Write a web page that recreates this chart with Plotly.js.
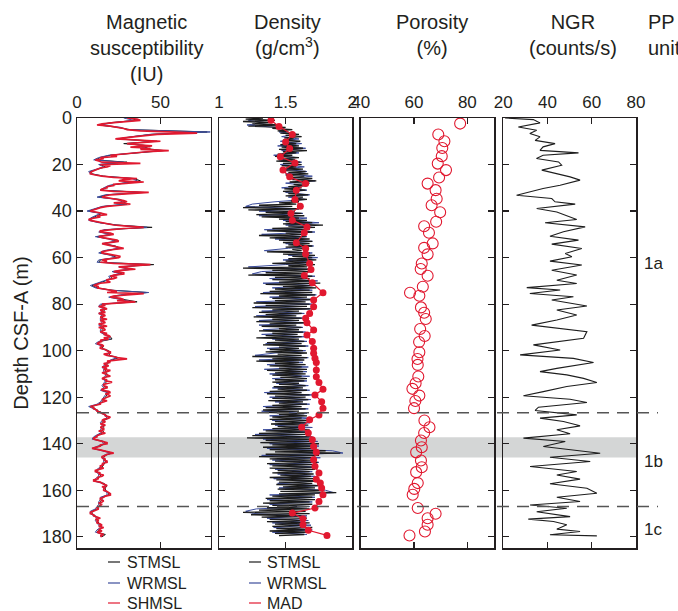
<!DOCTYPE html>
<html>
<head>
<meta charset="utf-8">
<script src="https://cdn.plot.ly/plotly-3.0.1.min.js"></script>
<style>html,body{margin:0;padding:0;background:#fff;}</style>
</head>
<body>
<div id="chart" style="width:678px;height:611px;"></div>
<script>
// ---------------- DATA ----------------
// Magnetic susceptibility (IU), SHMSL sampled every 0.5 m from 0 m
const magSHMSL = [30,36,38,28,22,15,12,20,25,28,30,38,55,72,48,40,35,28,23,38,50,40,30,36,45,32,44,38,55,42,35,28,20,24,14,16,11,13,15,38,
14,20,18,14,12,10,9,8,8,11,15,22,36,28,25,40,30,22,22,18,18,15,14,22,43,30,20,17,15,20,25,28,30,22,32,24,18,14,12,10,
8,12,15,18,12,14,10,7,8,12,15,18,22,30,40,28,18,14,14,20,22,17,13,16,20,24,25,19,15,18,22,26,28,22,18,15,15,19,22,26,
25,20,15,18,14,22,44,35,25,30,35,26,22,28,28,22,20,24,22,18,18,20,14,12,10,13,12,16,20,24,18,40,30,22,20,26,28,24,35,22,
15,17,13,16,18,14,15,17,13,16,17,14,15,18,14,16,17,13,15,18,13,16,17,15,14,18,16,19,20,16,19,14,15,13,12,15,16,14,14,17,
18,20,20,16,18,22,24,30,22,18,20,16,17,19,15,18,16,20,18,15,17,19,20,16,15,18,17,21,19,16,16,18,18,15,15,19,20,17,19,20,
18,16,15,18,16,14,14,11,8,10,10,12,12,14,15,17,17,20,19,16,15,17,16,14,17,15,14,16,16,13,15,17,14,12,12,10,10,13,15,18,
18,14,14,12,9,13,16,20,22,18,17,15,15,17,16,18,18,15,16,14,14,16,13,11,11,14,13,16,15,12,13,10,10,14,15,17,18,15,17,16,
16,18,19,20,20,17,16,14,14,16,15,13,15,14,13,12,13,11,10,8,8,10,10,12,14,11,13,12,12,14,15,13,16,14,13,15,12,14,16,14,15];
// STMSL and WRMSL sampled every 1 m from 0 m
const magSTMSL = [32,36,20,13,24,32,78,45,34,25,48,28,44,40,52,33,20,14,11,30,14,17,12,8,9,16,34,38,28,20,17,15,40,18,13,26,28,30,16,11,
7,15,12,9,8,14,24,45,17,14,21,12,20,24,16,23,26,17,14,21,24,14,13,46,26,33,22,27,20,21,17,13,9,12,21,42,28,20,27,36,
15,14,17,16,14,16,15,15,16,14,16,15,15,17,20,21,14,12,16,15,19,20,19,25,21,19,18,16,17,17,18,18,16,18,17,16,17,15,19,18,
17,16,15,13,9,11,13,16,18,19,16,15,16,16,15,16,13,11,10,16,17,14,10,16,21,17,16,17,17,16,15,13,12,14,14,12,11,16,18,17,
17,19,19,15,15,14,14,13,12,9,9,11,13,12,13,14,15,13,12,17,15];
const magWRMSL = [28,34,22,14,26,30,80,44,33,24,46,30,43,38,50,34,19,13,10,28,13,16,11,7,8,15,33,36,27,19,16,14,38,17,12,24,27,29,15,10,
6,14,11,8,7,13,23,42,16,13,20,11,19,23,15,22,25,16,13,20,23,13,12,42,25,31,21,26,19,20,16,12,8,11,20,43,26,19,26,33,
14,13,16,15,13,15,14,14,15,13,15,14,14,16,19,20,13,11,15,14,18,19,18,24,20,18,17,15,16,16,17,17,15,17,16,15,16,14,18,17,
16,15,14,12,7,10,12,15,17,18,15,14,15,15,14,15,12,10,9,15,16,13,9,15,20,16,15,16,16,15,14,12,11,13,13,11,10,15,17,16,
16,18,18,14,14,13,13,12,11,8,8,10,12,11,12,13,14,12,11,16,14];

// Density (g/cm3): STMSL every 0.5 m, WRMSL every 1 m, from 0 m
const denSTMSL = [1.33,1.20,1.42,1.18,1.40,1.25,1.45,1.22,1.50,1.40,1.55,1.44,1.52,1.46,1.60,1.50,1.62,1.49,1.56,1.48,
1.61,1.50,1.58,1.46,1.60,1.47,1.63,1.45,1.66,1.48,1.58,1.44,1.55,1.42,1.60,1.45,1.57,1.43,1.61,1.48,
1.62,1.47,1.58,1.50,1.63,1.46,1.65,1.52,1.67,1.50,1.64,1.54,1.70,1.55,1.73,1.53,1.68,1.56,1.66,1.52,
1.62,1.49,1.65,1.48,1.60,1.52,1.67,1.50,1.63,1.55,1.66,1.54,1.60,1.45,1.58,1.30,1.55,1.18,1.60,1.22,
1.57,1.35,1.62,1.28,1.64,1.32,1.60,1.45,1.66,1.50,1.70,1.48,1.78,1.52,1.72,1.40,1.68,1.36,1.70,1.50,
1.62,1.30,1.65,1.38,1.68,1.45,1.70,1.48,1.68,1.52,1.70,1.50,1.66,1.55,1.62,1.36,1.68,1.48,1.72,1.55,
1.70,1.52,1.73,1.50,1.69,1.40,1.72,1.52,1.66,1.18,1.68,1.40,1.70,1.35,1.65,1.22,1.70,1.42,1.68,1.40,
1.72,1.45,1.76,1.35,1.70,1.48,1.73,1.42,1.68,1.38,1.70,1.31,1.72,1.45,1.66,1.40,1.70,1.42,1.65,1.26,
1.68,1.35,1.66,1.25,1.70,1.40,1.60,1.30,1.62,1.35,1.58,1.26,1.62,1.40,1.60,1.28,1.64,1.38,1.58,1.32,
1.62,1.45,1.60,1.30,1.63,1.40,1.59,1.35,1.62,1.28,1.60,1.42,1.64,1.36,1.62,1.33,1.65,1.45,1.60,1.38,
1.63,1.35,1.66,1.44,1.62,1.25,1.66,1.40,1.64,1.28,1.60,1.42,1.65,1.38,1.62,1.45,1.66,1.36,1.63,1.42,
1.65,1.40,1.62,1.46,1.66,1.42,1.64,1.40,1.60,1.45,1.65,1.41,1.63,1.44,1.66,1.38,1.62,1.36,1.68,1.42,
1.65,1.40,1.67,1.37,1.63,1.45,1.66,1.40,1.62,1.35,1.65,1.33,1.60,1.34,1.64,1.45,1.66,1.40,1.62,1.38,
1.68,1.42,1.65,1.39,1.67,1.44,1.64,1.40,1.68,1.35,1.66,1.30,1.65,1.25,1.68,1.21,1.72,1.35,1.70,1.31,
1.75,1.40,1.70,1.33,1.73,1.38,1.80,1.42,1.91,1.35,1.75,1.30,1.72,1.38,1.70,1.42,1.74,1.36,1.71,1.40,
1.70,1.38,1.72,1.44,1.68,1.40,1.71,1.46,1.69,1.38,1.72,1.43,1.74,1.45,1.70,1.43,1.75,1.48,1.72,1.44,
1.78,1.46,1.88,1.45,1.72,1.40,1.70,1.35,1.72,1.38,1.68,1.33,1.70,1.40,1.66,1.36,1.68,1.30,1.65,1.18,
1.68,1.24,1.62,1.32,1.66,1.38,1.64,1.36,1.68,1.42,1.65,1.40,1.70,1.43,1.66,1.38,1.68,1.42,1.64,1.45];
const denWRMSL = [1.30,1.22,1.35,1.21,1.42,1.50,1.45,1.58,1.47,1.60,1.46,1.62,1.44,1.65,1.47,1.60,1.41,1.58,1.45,1.62,
1.46,1.64,1.48,1.66,1.50,1.70,1.53,1.72,1.50,1.65,1.47,1.66,1.50,1.68,1.52,1.65,1.42,1.25,1.20,1.60,
1.30,1.63,1.30,1.66,1.48,1.75,1.50,1.70,1.34,1.72,1.32,1.66,1.42,1.70,1.50,1.71,1.52,1.34,1.70,1.52,
1.74,1.48,1.70,1.50,1.22,1.70,1.32,1.25,1.72,1.38,1.74,1.33,1.72,1.40,1.70,1.33,1.73,1.38,1.72,1.28,
1.70,1.27,1.68,1.32,1.64,1.28,1.63,1.30,1.66,1.30,1.63,1.33,1.65,1.32,1.64,1.40,1.66,1.35,1.67,1.36,
1.65,1.42,1.27,1.67,1.30,1.63,1.36,1.67,1.34,1.66,1.38,1.68,1.40,1.66,1.43,1.67,1.40,1.68,1.34,1.70,
1.38,1.69,1.42,1.68,1.33,1.67,1.32,1.66,1.38,1.70,1.40,1.68,1.42,1.70,1.33,1.68,1.27,1.70,1.33,1.74,
1.38,1.75,1.36,1.85,1.93,1.32,1.76,1.40,1.75,1.38,1.73,1.42,1.70,1.44,1.72,1.41,1.75,1.44,1.76,1.45,
1.80,1.86,1.38,1.72,1.36,1.70,1.38,1.68,1.28,1.20,1.26,1.66,1.36,1.67,1.40,1.69,1.41,1.70,1.40,1.66];
// MAD discrete samples
const madDepth = [1.0,3.6,7.1,10.3,13.1,16.7,19.3,22.4,25.3,28.2,31.0,35.0,37.9,41.0,43.9,46.8,49.3,53.6,56.1,58.5,
62.5,65.1,67.7,70.8,75.1,78.2,81.1,84.0,86.1,88.0,91.1,93.3,96.1,99.0,101.1,103.3,105.1,108.3,111.2,113.7,
116.6,119.0,121.9,124.7,127.6,129.7,132.9,135.4,138.3,141.2,143.7,146.9,149.7,152.6,155.2,156.9,159.0,161.9,164.8,167.6,
169.8,172.2,174.8,177.2,179.4];
const madDensity = [1.39,1.45,1.55,1.50,1.53,1.46,1.57,1.48,1.53,1.65,1.58,1.57,1.61,1.54,1.55,1.66,1.64,1.58,1.65,1.65,
1.68,1.69,1.64,1.70,1.78,1.71,1.71,1.68,1.65,1.66,1.71,1.66,1.70,1.71,1.71,1.72,1.73,1.73,1.73,1.75,
1.78,1.72,1.77,1.78,1.75,1.68,1.62,1.67,1.70,1.71,1.73,1.71,1.72,1.75,1.73,1.76,1.77,1.78,1.75,1.72,
1.55,1.63,1.63,1.67,1.81];

// Porosity (%), MAD samples
const porDepth = [2.4,7.1,10.0,12.9,16.4,19.6,22.4,25.6,28.2,31.0,34.7,37.5,40.5,44.6,46.5,49.3,53.9,55.8,58.6,62.5,
64.9,67.8,72.5,75.1,76.4,81.4,83.7,86.4,90.7,93.7,96.3,100.7,103.6,106.1,111.1,114.0,116.4,119.3,121.6,124.7,
130.0,132.9,135.4,138.6,141.5,143.7,147.2,150.1,152.2,156.9,159.4,161.9,167.6,170.1,172.0,174.8,177.7,179.4];
const porosity = [77.3,69.1,71.4,70.6,70.4,68.9,72.0,69.4,65.1,68.1,68.5,66.6,69.8,68.3,63.8,65.6,67.0,63.8,65.1,62.9,
62.5,65.1,63.3,58.5,62.0,62.6,63.8,64.4,62.3,64.0,61.9,62.0,61.3,61.4,61.6,60.6,59.4,62.0,60.5,60.0,
63.9,65.8,63.8,62.6,62.9,60.8,62.6,62.9,60.8,61.4,60.1,59.5,61.4,68.1,65.1,65.1,64.1,58.3];

// NGR (counts/s)
const ngrDepth = [0,0.3,0.7,2.1,3.9,5.3,6.7,8.1,9.6,11.0,12.4,13.9,15.0,16.0,17.4,18.9,20.3,22.4,23.9,25.3,
26.7,28.9,30.3,31.7,33.2,34.6,36.0,37.0,38.9,40.4,42.5,43.6,45.0,46.8,48.9,50.8,52.5,54.2,56.1,58.2,
59.6,61.5,63.2,65.4,67.5,69.7,71.1,72.9,73.9,75.4,76.8,78.2,80.8,82.5,84.7,86.8,89.0,90.4,91.8,94.7,
97.5,99.7,101.8,103.3,105.1,107.6,109.0,110.4,111.9,113.7,115.4,117.6,119.4,120.9,122.3,124.3,125.7,127.6,129.0,130.4,
132.3,134.0,135.7,137.6,139.0,141.2,142.9,144.1,145.8,147.6,149.8,151.9,153.4,155.2,157.2,159.1,161.3,163.0,164.8,166.3,
167.7,169.2,171.3,172.4,173.4,174.8,176.7,177.7,179.1,179.6];
const ngr = [20.8,29,33.6,36.6,26.8,35.1,32,36.6,34.4,43.4,38,36.6,54,38,35,45,46.4,37.4,44.2,50.2,
54.7,45.7,38,32,26,41.9,43.4,52.5,35.1,44.2,50.2,53.2,38.9,57,47.2,41.1,54,41.9,55.5,48,
51,41.1,55.5,41.9,53.2,44.2,53.2,30.6,45.7,32,51.7,41.9,57.8,44.2,53.2,44.2,32.8,45.7,57.8,56.3,
33.6,45.7,27.6,51.7,60.8,44.2,36.6,48.7,56.3,62.3,48.7,38.1,29.1,50.2,57.8,35.9,34.4,53.2,36.6,47.2,
54.7,44.2,50.2,29.1,48,38.1,51.7,63.8,41.1,59.3,32.1,53.2,44.2,54.7,41.1,57.8,62.3,44.2,54.7,32.1,
48.7,35.1,50.2,31.3,42.7,48.7,44.2,54.7,41.1,62.3];

const unitLabels = ['1a','1b','1c'];
const unitDepths = [62.5,147.8,177];
const boundaryDepths = [126.7,167.0];
const bandDepths = [137.2,145.9];

// ---------------- PLOT ----------------
const half = magSHMSL.map((_, i) => i * 0.5);
const whole = magSTMSL.map((_, i) => i);
const denHalf = denSTMSL.map((_, i) => i * 0.5);
const denWhole = denWRMSL.map((_, i) => i);

const RED = '#e1182f', BLUE = '#3b4c9b', BLACK = '#1b1b1b', AX = '#231f20';

const traces = [
  {x: magSTMSL, y: whole, name:'STMSL', mode:'lines', line:{color:BLACK, width:1}, xaxis:'x', yaxis:'y'},
  {x: magWRMSL, y: whole, name:'WRMSL', mode:'lines', line:{color:BLUE, width:1}, xaxis:'x', yaxis:'y'},
  {x: magSHMSL, y: half, name:'SHMSL', mode:'lines', line:{color:RED, width:1.7}, xaxis:'x', yaxis:'y'},
  {x: denWRMSL, y: denWhole, name:'WRMSL', mode:'lines', line:{color:BLUE, width:1}, xaxis:'x2', yaxis:'y2'},
  {x: denSTMSL, y: denHalf, name:'STMSL', mode:'lines', line:{color:BLACK, width:1.3}, xaxis:'x2', yaxis:'y2'},
  {x: madDensity, y: madDepth, name:'MAD', mode:'lines+markers', line:{color:RED, width:1.2}, marker:{color:RED, size:7}, xaxis:'x2', yaxis:'y2'},
  {x: porosity, y: porDepth, name:'Porosity', mode:'markers', marker:{symbol:'circle-open', color:RED, size:11, line:{width:1.1, color:RED}}, xaxis:'x3', yaxis:'y3'},
  {x: ngr, y: ngrDepth, name:'NGR', mode:'lines', line:{color:'#1e1e1e', width:1.1}, xaxis:'x4', yaxis:'y4'}
];

const L = 77, T = 118, W = 559, H = 430;
const px = v => (v - L) / W;
const py = v => (T + H - v) / H;

const xCommon = {side:'top', showline:true, linecolor:AX, linewidth:1.5, mirror:'ticks', ticks:'inside', ticklen:6, tickwidth:1.2, tickcolor:AX,
  showgrid:false, zeroline:false, fixedrange:true, tickfont:{size:17, color:AX}, ticklabelstandoff:2};
const yCommon = {range:[184.8,0], tick0:0, dtick:20, showline:true, linecolor:AX, linewidth:1.5, mirror:'ticks', ticks:'inside', ticklen:6,
  tickwidth:1.2, tickcolor:AX, showgrid:false, zeroline:false, fixedrange:true, tickfont:{size:18, color:AX}};

const shapes = [
  {type:'rect', xref:'paper', yref:'y', x0:0, x1:1, y0:bandDepths[0], y1:bandDepths[1], fillcolor:'#d4d6d6', line:{width:0}, layer:'below'}
];
boundaryDepths.forEach(d => shapes.push({type:'line', xref:'paper', yref:'y', x0:0, x1:px(658), y0:d, y1:d, line:{color:'#555', width:1.5, dash:'12px,8px'}, layer:'above'}));

const annotations = [
  {text:'Magnetic<br>susceptibility<br>(IU)', x:px(146), y:py(9), xanchor:'center', yanchor:'top'},
  {text:'Density<br>(g/cm<sup>3</sup>)', x:px(287), y:py(9), xanchor:'center', yanchor:'top'},
  {text:'Porosity<br>(%)', x:px(432), y:py(9), xanchor:'center', yanchor:'top'},
  {text:'NGR<br>(counts/s)', x:px(573), y:py(9), xanchor:'center', yanchor:'top'},
  {text:'PP<br>unit', x:px(646), y:py(9), xanchor:'left', yanchor:'top', align:'left'}
].map(a => Object.assign(a, {xref:'paper', yref:'paper', showarrow:false, font:{size:20, color:AX}}));

unitLabels.forEach((t, i) => annotations.push({text:t, xref:'paper', yref:'y', x:px(642), y:unitDepths[i], xanchor:'left', yanchor:'middle', showarrow:false, font:{size:17, color:AX}}));

const legendRows = [562, 583, 603];
const leg1 = [['STMSL',BLACK],['WRMSL',BLUE],['SHMSL',RED]];
const leg2 = [['STMSL',BLACK],['WRMSL',BLUE],['MAD',RED]];
[[leg1,108,125],[leg2,249,265]].forEach(([items, lx, tx]) => {
  items.forEach(([name, col], i) => {
    shapes.push({type:'line', xref:'paper', yref:'paper', x0:px(lx), x1:px(lx+12), y0:py(legendRows[i]), y1:py(legendRows[i]), line:{color:col, width:1.2}});
    annotations.push({text:name, xref:'paper', yref:'paper', x:px(tx), y:py(legendRows[i]), xanchor:'left', yanchor:'middle', showarrow:false, font:{size:16, color:AX}});
  });
});

const layout = {
  width:678, height:611,
  margin:{l:L, r:678-L-W, t:T, b:611-T-H, pad:0},
  paper_bgcolor:'#fff', plot_bgcolor:'rgba(0,0,0,0)',
  showlegend:false,
  font:{family:'"Liberation Sans", Arial, Helvetica, sans-serif', size:18, color:AX},
  xaxis: Object.assign({}, xCommon, {domain:[0, px(210.5)], range:[0,80], tick0:0, dtick:50, anchor:'y'}),
  xaxis2: Object.assign({}, xCommon, {domain:[px(219), px(352.3)], range:[1,2], tick0:1, dtick:0.5, anchor:'y2'}),
  xaxis3: Object.assign({}, xCommon, {domain:[px(360.7), px(494)], range:[40,90], tick0:40, dtick:20, anchor:'y3'}),
  xaxis4: Object.assign({}, xCommon, {domain:[px(503.3), 1], range:[20,80], tick0:20, dtick:20, anchor:'y4'}),
  yaxis: Object.assign({}, yCommon, {anchor:'x', title:{text:'Depth CSF-A (m)', font:{size:20, color:AX}, standoff:8}}),
  yaxis2: Object.assign({}, yCommon, {anchor:'x2', matches:'y', showticklabels:false}),
  yaxis3: Object.assign({}, yCommon, {anchor:'x3', matches:'y', showticklabels:false}),
  yaxis4: Object.assign({}, yCommon, {anchor:'x4', matches:'y', showticklabels:false}),
  shapes: shapes,
  annotations: annotations
};

Plotly.newPlot('chart', traces, layout, {displayModeBar:false, staticPlot:true});
</script>
</body>
</html>
